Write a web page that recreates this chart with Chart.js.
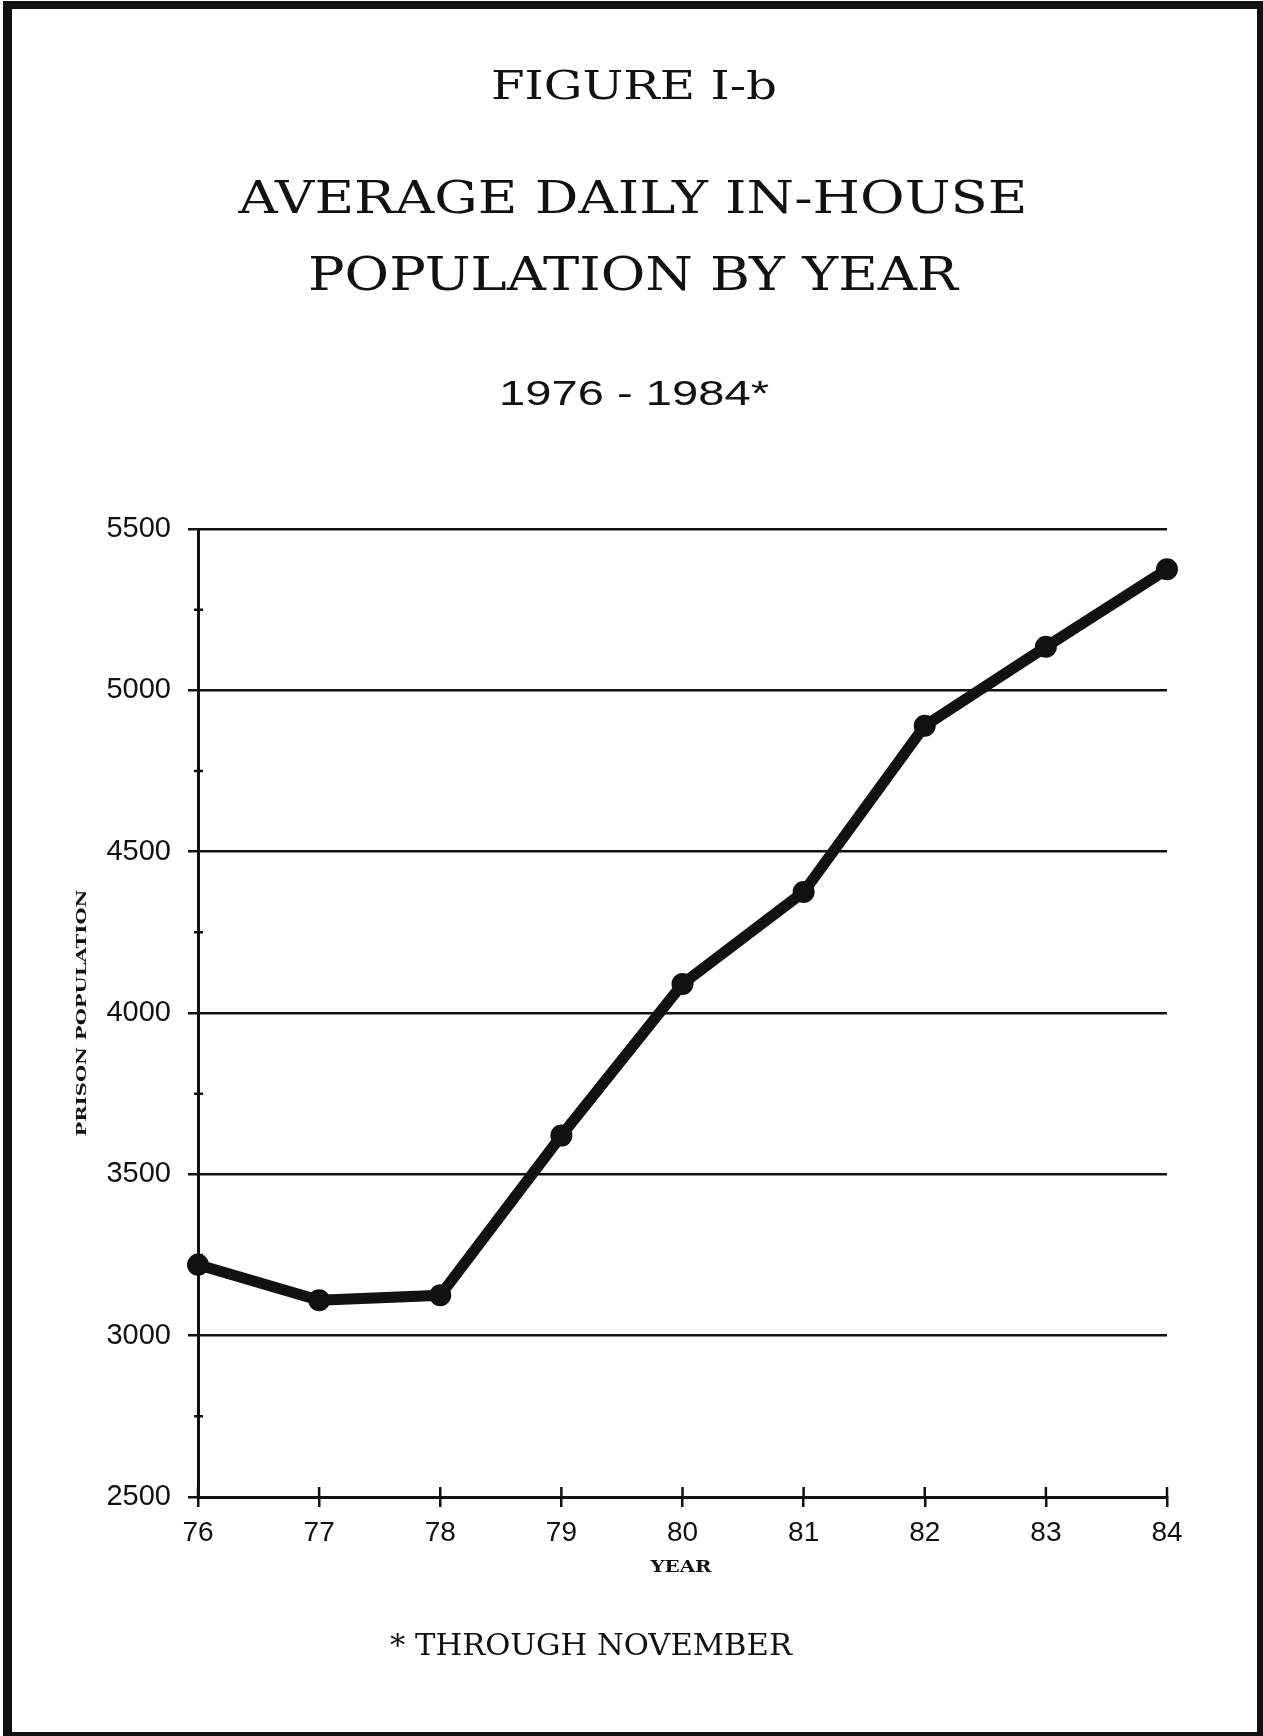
<!DOCTYPE html>
<html>
<head>
<meta charset="utf-8">
<title>Average Daily In-House Population by Year</title>
<script src="https://cdn.jsdelivr.net/npm/chart.js@4.4.1/dist/chart.umd.min.js"></script>
<style>
  html, body { margin: 0; padding: 0; background: #fff; overflow: hidden; }
  #page { position: relative; width: 1263px; height: 1736px; }
  #frame {
    position: absolute; left: 3px; top: 1px; width: 1260px; height: 1735px;
    box-sizing: border-box; border: solid #111; border-width: 8px 6px 4px 9px;
  }
  #myChart { position: absolute; left: 0; top: 0; }
  #labels { position: absolute; left: 0; top: 0; }
  .type { font-family: "DejaVu Serif", serif; fill: #111; }
  .sans { font-family: "Liberation Sans", Arial, sans-serif; fill: #111; }
</style>
</head>
<body>
<div id="page">
  <canvas id="myChart" width="1263" height="1736"></canvas>
  <svg id="labels" width="1263" height="1736">
    <text class="type" x="634" y="99" font-size="40" text-anchor="middle" textLength="286" lengthAdjust="spacingAndGlyphs">FIGURE I-b</text>
    <text class="type" x="633" y="213" font-size="45" text-anchor="middle" textLength="789" lengthAdjust="spacingAndGlyphs">AVERAGE DAILY IN-HOUSE</text>
    <text class="type" x="633" y="290" font-size="46" text-anchor="middle" textLength="650" lengthAdjust="spacingAndGlyphs">POPULATION BY YEAR</text>
    <text class="sans" x="634" y="405" font-size="35" text-anchor="middle" textLength="270" lengthAdjust="spacingAndGlyphs">1976 - 1984*</text>
    <text class="type" x="681" y="1572" font-size="17" font-weight="bold" text-anchor="middle" textLength="61" lengthAdjust="spacingAndGlyphs">YEAR</text>
    <text class="type" transform="translate(86,1013) rotate(-90)" x="0" y="0" font-size="12" font-weight="bold" text-anchor="middle" textLength="247" lengthAdjust="spacingAndGlyphs">PRISON POPULATION</text>
    <text class="type" x="591" y="1655" font-size="30" text-anchor="middle" textLength="402" lengthAdjust="spacingAndGlyphs">* THROUGH NOVEMBER</text>
  </svg>
  <div id="frame"></div>
</div>

<script>
const ctx = document.getElementById('myChart');

const years = ['76', '77', '78', '79', '80', '81', '82', '83', '84'];
const population = [3220, 3110, 3125, 3620, 4090, 4375, 4890, 5135, 5375];
const yMin = 2500;
const yMax = 5500;
const labelStep = 500;
const minorStep = 250;

const ink = '#111';
const none = 'rgba(0,0,0,0)';

// small marks that cross the axes (year ticks and the in-between 250 marks)
const crossTicks = {
  id: 'crossTicks',
  beforeDatasetsDraw(chart) {
    const { ctx, chartArea, scales: { x, y } } = chart;
    ctx.save();
    ctx.strokeStyle = ink;
    ctx.lineWidth = 2.5;
    ctx.beginPath();
    years.forEach((yr, i) => {
      const px = x.getPixelForValue(i);
      ctx.moveTo(px, chartArea.bottom - 10);
      ctx.lineTo(px, chartArea.bottom);
    });
    for (let v = yMin + minorStep; v < yMax; v += labelStep) {
      const py = y.getPixelForValue(v);
      ctx.moveTo(chartArea.left - 4, py);
      ctx.lineTo(chartArea.left + 5, py);
    }
    ctx.stroke();
    ctx.restore();
  }
};

new Chart(ctx, {
  type: 'line',
  data: {
    labels: years,
    datasets: [{
      label: 'Prison population',
      data: population,
      borderColor: ink,
      borderWidth: 11,
      backgroundColor: ink,
      pointRadius: 11,
      pointBorderWidth: 0,
      pointBackgroundColor: ink,
      tension: 0,
      clip: false
    }]
  },
  plugins: [crossTicks],
  options: {
    responsive: false,
    animation: false,
    layout: {
      padding: { left: 0, right: 96, top: 529, bottom: 179 }
    },
    plugins: {
      legend: { display: false },
      tooltip: { enabled: false }
    },
    scales: {
      x: {
        offset: false,
        afterFit: (scale) => { scale.height = 60; },
        grid: {
          display: true,
          drawOnChartArea: false,
          drawTicks: true,
          tickLength: 10,
          color: ink,
          lineWidth: 2.5
        },
        border: { display: true, color: ink, width: 3 },
        ticks: {
          color: ink,
          padding: 9,
          maxRotation: 0,
          font: { family: 'Liberation Sans', size: 28 }
        }
      },
      y: {
        min: yMin,
        max: yMax,
        afterFit: (scale) => { scale.width = 198; },
        grid: {
          color: (c) => c.tick && c.tick.value % labelStep === 0 ? ink : none,
          tickColor: (c) => c.tick && c.tick.value % labelStep === 0 ? ink : none,
          lineWidth: 2.5,
          tickLength: 10
        },
        border: { display: true, color: ink, width: 3 },
        ticks: {
          stepSize: minorStep,
          autoSkip: false,
          color: ink,
          padding: 17,
          font: { family: 'Liberation Sans', size: 29 },
          callback: (value) => value % labelStep === 0 ? String(value) : ''
        }
      }
    }
  }
});
</script>
</body>
</html>
